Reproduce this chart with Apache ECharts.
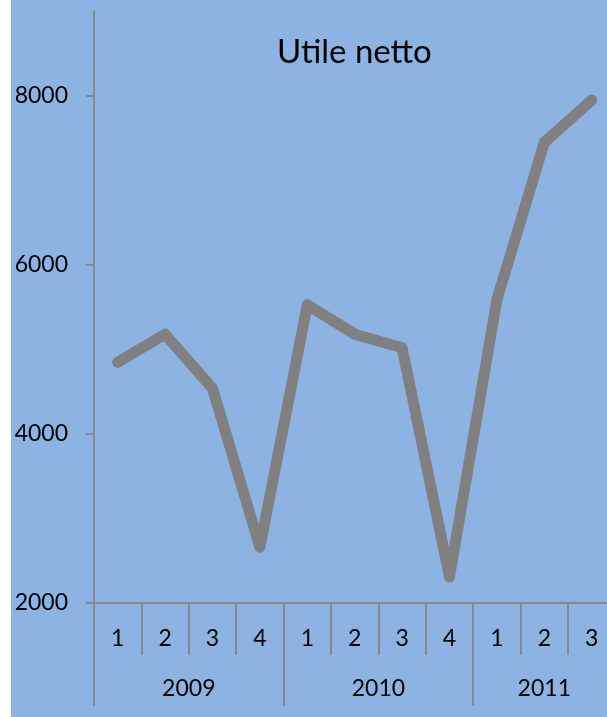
<!DOCTYPE html>
<html><head><meta charset="utf-8">
<script src="https://cdn.jsdelivr.net/npm/echarts@6/dist/echarts.min.js"></script>
<style>html,body{margin:0;padding:0;background:#fff;width:607px;height:717px;overflow:hidden}
#c{position:absolute;left:11px;top:0;width:596px;height:717px;background:#8DB3E2}</style>
</head><body><div id="c"></div>
<script>
const chartTitle = 'Utile netto';
const quarters = ['1','2','3','4','1','2','3','4','1','2','3'];
const years = ['2009','2010','2011'];
const yearSizes = [4,4,3];
const utileNetto = [4850,5180,4540,2660,5530,5180,5020,2310,5590,7450,7950];
const yTicks = [2000,4000,6000,8000];

const yearBounds = [], yearMids = [];
let acc = 0;
yearSizes.forEach(n => { yearBounds.push(acc); yearMids.push(acc + n / 2); acc += n; });

const axisColor = '#898989';
const font = 'Lato';
const chart = echarts.init(document.getElementById('c'));
chart.setOption({
  backgroundColor: 'transparent',
  animation: false,
  title: {
    text: chartTitle, left: 261, top: 31,
    textStyle: {fontFamily: font, fontSize: 33, fontWeight: 'normal', color: '#000'}
  },
  grid: {left: 83, right: -8.4, top: 11.5, bottom: 114, containLabel: false, outerBoundsMode: 'none'},
  xAxis: [{
    type: 'category', data: quarters, boundaryGap: true, position: 'bottom',
    axisLine: {show: true, lineStyle: {color: axisColor, width: 2}},
    axisTick: {show: true, interval: 0, length: 52, lineStyle: {color: axisColor, width: 2}},
    axisLabel: {interval: 0, margin: 24, fontFamily: font, fontSize: 23, color: '#000'},
    splitLine: {show: false}
  }, {
    type: 'value', min: 0, max: quarters.length, position: 'bottom',
    axisLine: {show: false},
    axisTick: {show: true, customValues: yearBounds, length: 103, lineStyle: {color: axisColor, width: 2}},
    axisLabel: {customValues: yearMids, margin: 74, fontFamily: font, fontSize: 23, color: '#000',
      formatter: v => years[yearMids.indexOf(v)] || ''},
    splitLine: {show: false}
  }],
  yAxis: {
    type: 'value', min: 2000, max: 9000,
    axisLine: {show: true, lineStyle: {color: axisColor, width: 2}},
    axisTick: {show: true, customValues: yTicks, length: 8, lineStyle: {color: axisColor, width: 2}},
    axisLabel: {customValues: yTicks, margin: 26, fontFamily: font, fontSize: 23, color: '#000',
      formatter: v => String(v)},
    splitLine: {show: false}
  },
  series: [{
    type: 'line', data: utileNetto, xAxisIndex: 0, symbol: 'none', smooth: false,
    lineStyle: {color: '#808080', width: 11, cap: 'round', join: 'round'}
  }]
});
</script></body></html>
